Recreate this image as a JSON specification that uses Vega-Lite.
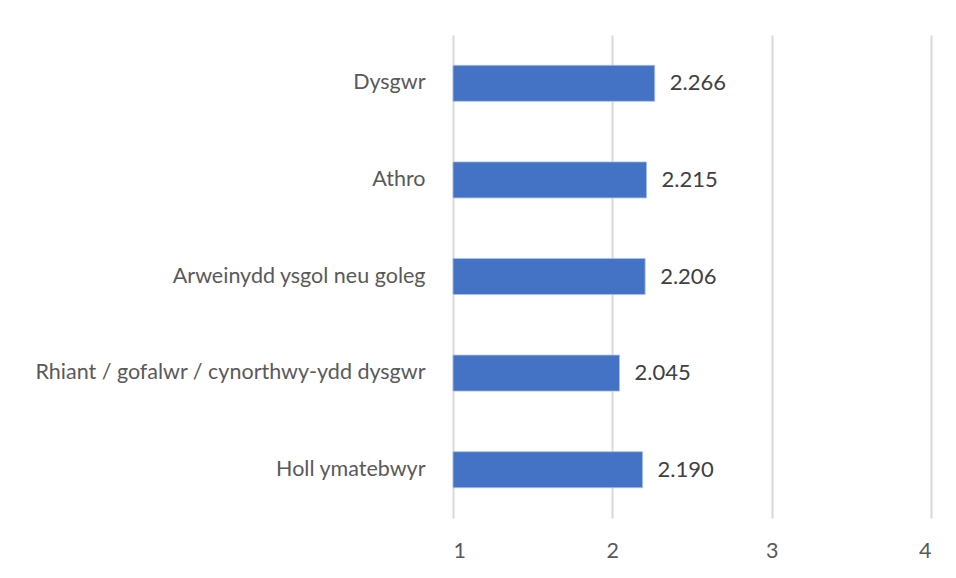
{
  "$schema": "https://vega.github.io/schema/vega-lite/v6.json",
  "autosize": {"type": "none"},
  "padding": {"left": 453, "top": 35, "right": 25, "bottom": 60},
  "width": 478,
  "height": 483,
  "background": "white",
  "config": {"view": {"stroke": null}, "font": "Lato"},
  "data": {"values": [
    {"group": "Dysgwr", "value": 2.266, "label": "2.266"},
    {"group": "Athro", "value": 2.215, "label": "2.215"},
    {"group": "Arweinydd ysgol neu goleg", "value": 2.206, "label": "2.206"},
    {"group": "Rhiant / gofalwr / cynorthwy-ydd dysgwr", "value": 2.045, "label": "2.045"},
    {"group": "Holl ymatebwyr", "value": 2.19, "label": "2.190"}
  ]},
  "encoding": {
    "y": {
      "field": "group", "type": "nominal", "sort": null,
      "scale": {"paddingInner": 0.627, "paddingOuter": 0.3135},
      "axis": {"title": null, "domain": false, "ticks": false, "grid": false, "labelPadding": 28, "labelFontSize": 21.5, "labelColor": "#595959", "labelFont": "Lato", "labelLimit": 500}
    }
  },
  "layer": [
    {
      "mark": {"type": "bar", "color": "#4472C4", "stroke": "#A9C1EA", "strokeWidth": 0.8},
      "encoding": {
        "x": {
          "field": "value", "type": "quantitative",
          "scale": {"domain": [1, 4], "nice": false, "zero": false},
          "axis": {"title": null, "values": [1, 2, 3, 4], "format": "d", "domain": false, "ticks": false, "grid": true, "gridColor": "#D9D9D9", "gridWidth": 2, "labelPadding": 22, "labelFontSize": 21.5, "labelColor": "#595959", "labelFont": "Lato"}
        },
        "x2": {"datum": 1}
      }
    },
    {
      "mark": {"type": "text", "align": "left", "dx": 15, "fontSize": 22, "color": "#404040", "font": "Lato"},
      "encoding": {
        "x": {"field": "value", "type": "quantitative"},
        "text": {"field": "label"}
      }
    }
  ]
}
